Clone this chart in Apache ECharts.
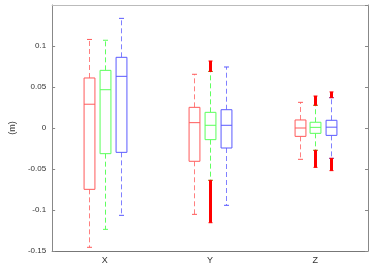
<!DOCTYPE html>
<html><head><meta charset="utf-8">
<script src="https://cdn.jsdelivr.net/npm/echarts@6/dist/echarts.min.js"></script>
<style>html,body{margin:0;padding:0;background:#fff}#c{width:374px;height:280px}</style>
</head><body><div id="c"></div>
<script>
var categories = ['X', 'Y', 'Z'];
var yTicks = [-0.15, -0.1, -0.05, 0, 0.05, 0.1];
// [lowerWhisker, Q1, median, Q3, upperWhisker] per category
var redStats = [[-0.1455, -0.0748, 0.029, 0.061, 0.108], [-0.1053, -0.0406, 0.0065, 0.0252, 0.0655], [-0.0382, -0.0102, 0.0, 0.0098, 0.0313]];
var greenStats = [[-0.1236, -0.0313, 0.0467, 0.0703, 0.107], [-0.0638, -0.0142, 0.0033, 0.0191, 0.069], [-0.0272, -0.0065, 0.0008, 0.007, 0.0277]];
var blueStats = [[-0.1065, -0.0297, 0.063, 0.0862, 0.1337], [-0.0943, -0.0244, 0.0033, 0.0223, 0.0744], [-0.037, -0.009, 0.001, 0.0094, 0.037]];
// outlier spans: [category index, from, to]
var greenOutliers = [[1, 0.069, 0.0817], [1, -0.1155, -0.0638], [2, 0.0277, 0.039], [2, -0.048, -0.0272]];
var blueOutliers = [[2, 0.037, 0.044], [2, -0.052, -0.037]];

var boxColors = ['#ff5a5a', '#5aff5a', '#5a5aff'];
var whiskerColors = ['#ff8080', '#60ff60', '#8080ff'];
var offsets = [-0.15, 0, 0.15];
var boxFrac = 0.103;

function boxSeries(stats, k) {
  return {
    type: 'custom',
    data: stats.map(function (s, i) { return [i].concat(s); }),
    renderItem: function (params, api) {
      var ci = api.value(0);
      var band = api.size([1, 0])[0];
      var cx = api.coord([ci, 0])[0] + offsets[k] * band;
      var hw = boxFrac * band / 2;
      var y = function (v) { return api.coord([ci, v])[1]; };
      var lo = y(api.value(1)), q1 = y(api.value(2)), md = y(api.value(3)), q3 = y(api.value(4)), hi = y(api.value(5));
      var cw = 2.5;
      var px = Math.round(cx) + 0.5;
      var ls = {stroke: boxColors[k], lineWidth: 1, fill: null};
      var ws = {stroke: whiskerColors[k], lineWidth: 1, lineDash: [5, 3]};
      return {type: 'group', children: [
        {type: 'line', shape: {x1: px, y1: q3, x2: px, y2: hi}, style: ws},
        {type: 'line', shape: {x1: px, y1: q1, x2: px, y2: lo}, style: ws},
        {type: 'line', shape: {x1: px - cw, y1: hi, x2: px + cw, y2: hi}, style: ls},
        {type: 'line', shape: {x1: px - cw, y1: lo, x2: px + cw, y2: lo}, style: ls},
        {type: 'rect', shape: {x: px - hw, y: q3, width: 2 * hw, height: q1 - q3}, style: {stroke: boxColors[k], fill: '#fff', lineWidth: 1}},
        {type: 'line', shape: {x1: px - hw, y1: md, x2: px + hw, y2: md}, style: ls}
      ]};
    },
    z: 2
  };
}

function outlierSeries(list, k) {
  return {
    type: 'custom',
    data: list,
    renderItem: function (params, api) {
      var ci = api.value(0);
      var band = api.size([1, 0])[0];
      var cx = Math.round(api.coord([ci, 0])[0] + offsets[k] * band) + 0.5;
      var a = api.coord([ci, api.value(1)])[1], b = api.coord([ci, api.value(2)])[1];
      return {type: 'group', children: [
        {type: 'rect', shape: {x: cx - 1.5, y: Math.min(a, b), width: 3, height: Math.abs(a - b)}, style: {fill: '#ff0000'}},
        {type: 'line', shape: {x1: cx - 2, y1: a, x2: cx + 2, y2: a}, style: {stroke: '#ff0000', lineWidth: 1}},
        {type: 'line', shape: {x1: cx - 2, y1: b, x2: cx + 2, y2: b}, style: {stroke: '#ff0000', lineWidth: 1}}
      ]};
    },
    z: 3
  };
}

var chart = echarts.init(document.getElementById('c'), null, {renderer: 'canvas'});
var font = 'Liberation Sans';
chart.setOption({
  animation: false,
  grid: {left: 38, right: 6, top: 5, bottom: 29, show: false},
  xAxis: [{
    type: 'category', data: categories, boundaryGap: true,
    axisLine: {onZero: false, lineStyle: {color: '#777'}},
    axisTick: {inside: true, alignWithLabel: true, length: 3, lineStyle: {color: '#777'}},
    axisLabel: {color: '#333', fontFamily: font, fontSize: 9, margin: 5},
    splitLine: {show: false}
  }, {
    type: 'category', data: categories, position: 'top', boundaryGap: true,
    axisLine: {onZero: false, lineStyle: {color: '#bbb'}},
    axisTick: {inside: true, alignWithLabel: true, length: 3, lineStyle: {color: '#777'}},
    axisLabel: {show: false}
  }],
  yAxis: [{
    type: 'value', min: -0.15, max: 0.15, interval: 0.05,
    name: '(m)', nameLocation: 'middle', nameGap: 30, nameRotate: 90,
    nameTextStyle: {color: '#333', fontFamily: font, fontSize: 9},
    axisLine: {show: true, onZero: false, lineStyle: {color: '#888'}},
    axisTick: {show: true, inside: true, length: 3, lineStyle: {color: '#888'}},
    axisLabel: {color: '#333', fontFamily: font, fontSize: 8, margin: 6, showMaxLabel: false,
      formatter: function (v) { var t = yTicks.filter(function (x) { return Math.abs(x - v) < 1e-9; }); return t.length ? String(t[0]) : ''; }},
    splitLine: {show: false}
  }, {
    type: 'value', min: -0.15, max: 0.15, interval: 0.05, position: 'right',
    axisLine: {show: true, onZero: false, lineStyle: {color: '#888'}},
    axisTick: {show: true, inside: true, length: 3, lineStyle: {color: '#888'}},
    axisLabel: {show: false}, splitLine: {show: false}
  }],
  series: [
    boxSeries(redStats, 0), boxSeries(greenStats, 1), boxSeries(blueStats, 2),
    outlierSeries(greenOutliers, 1), outlierSeries(blueOutliers, 2)
  ]
});
</script></body></html>
